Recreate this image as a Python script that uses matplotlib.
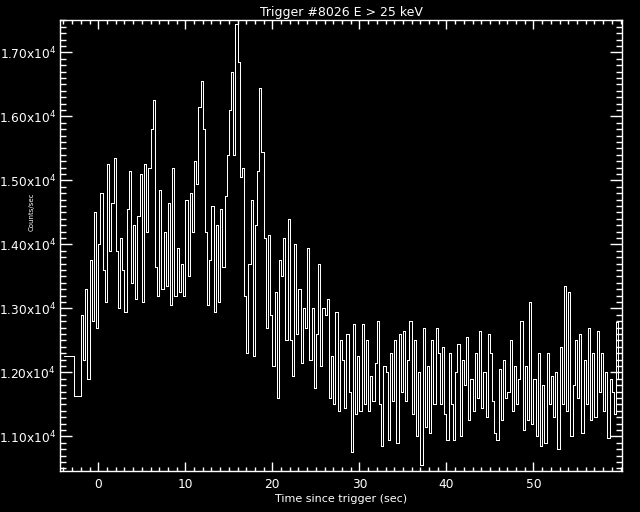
import matplotlib
matplotlib.use("Agg")
import matplotlib.pyplot as plt
import numpy as np

# pre-trigger (coarse) bins: edges in sec, counts/sec
pre_edges = [-3.9, -2.76, -2.0]
pre_counts = [12255, 11625]

# fine bins, 0.25 s wide, starting at -2.0 s (4 values per second)
t_start = -2.0
bin_width = 0.25
counts = [
    12900, 12200, 13300, 11900,  # -2
    13750, 12800, 14500, 12700,  # -1
    14000, 14800, 13600, 13100,  # 0
    15250, 13900, 14650, 15350,  # 1
    13900, 13000, 14100, 13600,  # 2
    12950, 14550, 15150, 13400,  # 3
    14300, 13150, 14450, 15100,  # 4
    13100, 15250, 14200, 15200,  # 5
    15800, 16250, 13650, 13200,  # 6
    14850, 13300, 14200, 13350,  # 7
    14650, 13050, 15200, 13200,  # 8
    13950, 13250, 13700, 13200,  # 9
    14700, 13500, 14800, 14200,  # 10
    15300, 14950, 16150, 16550,  # 11
    15800, 14200, 13050, 13750,  # 12
    14600, 12950, 14300, 13100,  # 13
    14550, 13650, 14750, 15400,  # 14
    16100, 16700, 15400, 17450,  # 15
    16850, 15050, 15200, 13200,  # 16
    12300, 13700, 14700, 12250,  # 17
    14300, 15150, 16450, 15450,  # 18
    14100, 12700, 14150, 12900,  # 19
    12100, 13250, 11600, 13750,  # 20
    13500, 14100, 12500, 14400,  # 21
    12500, 11950, 14000, 12600,  # 22
    13300, 12150, 13000, 12700,  # 23
    13950, 12200, 13000, 11750,  # 24
    12600, 13700, 12100, 13000,  # 25
    12900, 13150, 11600, 12250,  # 26
    11500, 12950, 11400, 12500,  # 27
    12200, 11450, 12600, 11700,  # 28
    10750, 12750, 11350, 12250,  # 29
    11400, 12750, 11500, 12500,  # 30
    11400, 11950, 11550, 12150,  # 31
    12800, 11500, 10850, 12100,  # 32
    12000, 10950, 12300, 11550,  # 33
    12500, 10900, 12600, 11700,  # 34
    12650, 11550, 12200, 12800,  # 35
    11350, 12500, 11000, 12000,  # 36
    10550, 12700, 11150, 12100,  # 37
    11050, 12500, 11500, 12700,  # 38
    12300, 11500, 12400, 11350,  # 39
    10950, 12300, 11500, 10950,  # 40
    12000, 12450, 11000, 12200,  # 41
    11800, 12550, 11250, 11900,  # 42
    11400, 12300, 11600, 12650,  # 43
    11450, 12000, 11300, 12600,  # 44
    12300, 11550, 11050, 10950,  # 45
    12050, 11250, 12200, 11600,  # 46
    11700, 12500, 11400, 12100,  # 47
    11500, 11900, 12800, 11100,  # 48
    12100, 11250, 13100, 11200,  # 49
    11900, 11000, 12300, 10850,  # 50
    11800, 10900, 12300, 11500,  # 51
    11950, 11300, 12000, 10800,  # 52
    12400, 11500, 13350, 11400,  # 53
    13250, 11000, 11800, 12500,  # 54
    11600, 12600, 11050, 12200,  # 55
    11500, 12700, 11250, 12300,  # 56
    11300, 12650, 11700, 12300,  # 57
    11400, 12000, 10980, 11900,  # 58
    11700, 11350, 12780, 11900,  # 59
]

x_ticks = [0, 10, 20, 30, 40, 50]
y_ticks = [11000, 12000, 13000, 14000, 15000, 16000, 17000]
y_ticklabels = [r'1.%02dx10$^{4}$' % ((v - 10000) // 100) for v in y_ticks]

fine_edges = t_start + bin_width * np.arange(len(counts) + 1)
edges = np.concatenate([pre_edges[:-1], fine_edges])
vals = np.concatenate([pre_counts, counts])

fig = plt.figure(figsize=(6.4, 5.12), dpi=100, facecolor='black')
ax = fig.add_axes([60 / 640, 41 / 512, 562 / 640, 451 / 512], facecolor='black')

ax.stairs(vals, edges, color='white', lw=0.72, baseline=None, antialiased=False)

ax.set_xlim(-4.4, 60.17)
ax.set_ylim(10458, 17505)
ax.set_xticks(x_ticks)
ax.set_xticks(np.arange(-4, 61, 1), minor=True)
ax.set_yticks(y_ticks)
ax.set_yticklabels(y_ticklabels)
ax.set_yticks(np.arange(10500, 17501, 100), minor=True)

for s in ax.spines.values():
    s.set_color('white')
    s.set_linewidth(1.0)
ax.tick_params(axis='both', which='both', direction='in', colors='white',
               top=True, right=True, labelsize=8.8, width=1.0)
ax.tick_params(axis='x', which='major', length=6.7, pad=5)
ax.tick_params(axis='x', which='minor', length=3.1)
ax.tick_params(axis='y', which='major', length=8.6, pad=3)
ax.tick_params(axis='y', which='minor', length=4.3)

ax.set_title('Trigger #8026 E > 25 keV', color='white', fontsize=9, pad=3)
ax.set_xlabel('Time since trigger (sec)', color='white', fontsize=8, labelpad=2)
ax.set_ylabel('Counts/sec', color='white', fontsize=5)
ax.yaxis.set_label_coords(-0.045, 0.575)

fig.savefig('out.png', dpi=100, facecolor='black')
